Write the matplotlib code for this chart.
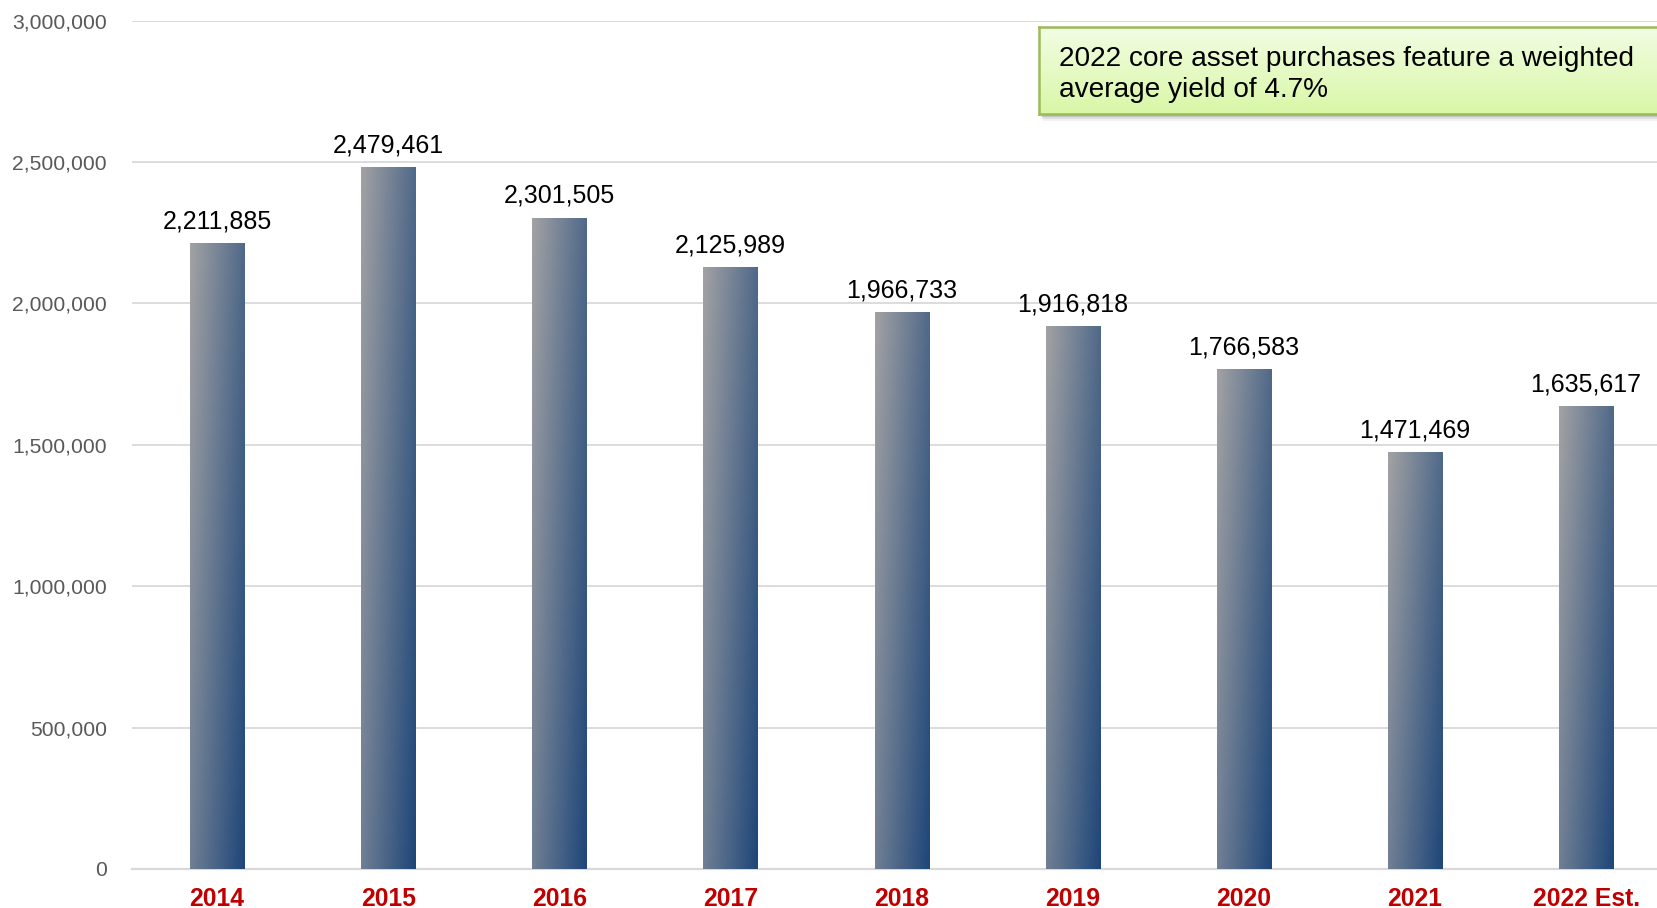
import matplotlib
matplotlib.use("Agg")
import matplotlib.pyplot as plt
import numpy as np
from matplotlib.colors import LinearSegmentedColormap
from matplotlib.patches import Rectangle
from matplotlib.ticker import FuncFormatter, MultipleLocator

plt.rcParams['font.family'] = ['Liberation Sans', 'DejaVu Sans']

# Annual acquisition volume
years = ["2014", "2015", "2016", "2017", "2018", "2019", "2020", "2021", "2022 Est."]
volumes = [2211885, 2479461, 2301505, 2125989, 1966733, 1916818, 1766583, 1471469, 1635617]
note_lines = ["2022 core asset purchases feature a weighted", "average yield of 4.7%"]

W, H, DPI = 1658, 908, 100
fig = plt.figure(figsize=(W / DPI, H / DPI), dpi=DPI)
fig.patch.set_facecolor("white")

ax_l, ax_r, ax_t, ax_b = 132, 1658, 20.7, 869
ax = fig.add_axes([ax_l / W, (H - ax_b) / H, (ax_r - ax_l) / W, (ax_b - ax_t) / H])

x = np.arange(len(years))
bar_w = 0.316
bars = ax.bar(x, volumes, width=bar_w, color="none", edgecolor="none", zorder=3)

# Diagonal gradient fill: light grey at top-left to navy at bottom-right
bar_cmap = LinearSegmentedColormap.from_list("bar", ["#a2a2a4", "#1e4679"])
u = np.linspace(0, 1, 64)
v = np.linspace(0, 1, 256)
U, V = np.meshgrid(u, v)
grad = (U * 0.62 + V * 0.38)
for rect in bars:
    x0 = rect.get_x()
    x1 = x0 + rect.get_width()
    h = rect.get_height()
    ax.imshow(grad, cmap=bar_cmap, vmin=0, vmax=1, extent=(x0, x1, 0, h),
              origin="upper", aspect="auto", interpolation="bilinear", zorder=3)

for xi, val in zip(x, volumes):
    ax.annotate(f"{val:,}", (xi, val), xytext=(0, 7.5), textcoords="offset points",
                ha="center", va="bottom", fontsize=18, color="black", zorder=5)

ax.set_xlim(-0.497, 8.42)
ax.set_ylim(0, 3000000)
ax.yaxis.set_major_locator(MultipleLocator(500000))
ax.yaxis.set_major_formatter(FuncFormatter(lambda v, p: f"{int(v):,}"))
ax.grid(axis="y", color="#d9d9d9", linewidth=1.3, zorder=0)
ax.set_axisbelow(True)
for s in ["left", "right", "top"]:
    ax.spines[s].set_visible(False)
ax.spines["bottom"].set_color("#d9d9d9")
ax.spines["bottom"].set_linewidth(1.6)
ax.tick_params(axis="y", length=0, pad=18, labelsize=15.2, labelcolor="#595959")
ax.tick_params(axis="x", length=0, pad=13)
ax.set_xticks(x)
ax.set_xticklabels(years, fontsize=17.8, fontweight="bold", color="#c00000")

# Callout box with soft drop shadow and green vertical gradient
bx0, bx1, by0, by1 = 1039, 1700, 27.5, 114
for k, a in [(7, 0.05), (5, 0.08), (3, 0.12)]:
    fig.patches.append(Rectangle(((bx0 + k * 0.6) / W, (H - by1 - k) / H), (bx1 - bx0) / W, (by1 - by0) / H,
                                 transform=fig.transFigure, facecolor="#000000", alpha=a,
                                 edgecolor="none", zorder=8))
box_ax = fig.add_axes([bx0 / W, (H - by1) / H, (bx1 - bx0) / W, (by1 - by0) / H], zorder=10)
box_cmap = LinearSegmentedColormap.from_list("box", ["#f2fde4", "#d9f7a6"])
box_ax.imshow(np.linspace(0, 1, 128).reshape(-1, 1), cmap=box_cmap, aspect="auto",
              extent=(0, 1, 0, 1), origin="upper", interpolation="bilinear")
box_ax.set_xlim(0, 1)
box_ax.set_ylim(0, 1)
box_ax.set_xticks([])
box_ax.set_yticks([])
for s in box_ax.spines.values():
    s.set_color("#9bbb59")
    s.set_linewidth(1.8)
for line, base in zip(note_lines, [65.5, 97]):
    fig.text(1059 / W, (H - base) / H, line, ha="left", va="baseline", fontsize=20.2,
             color="black", zorder=12)

fig.savefig("out.png", dpi=DPI, facecolor="white")
